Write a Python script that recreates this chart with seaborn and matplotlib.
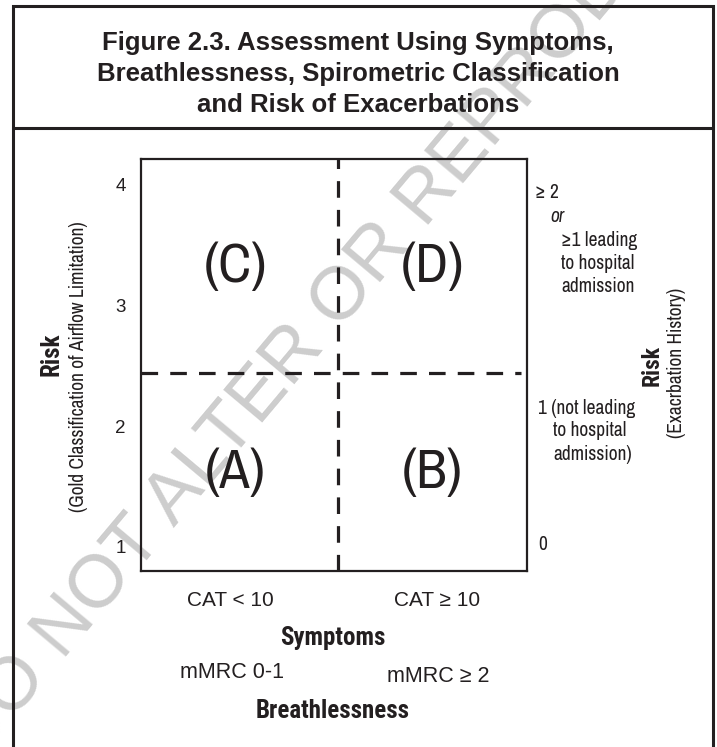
import matplotlib
matplotlib.use("Agg")
import matplotlib.pyplot as plt
from matplotlib.patches import Rectangle
from matplotlib.lines import Line2D
import seaborn as sns
import pandas as pd

# chart content
title_lines = ["Figure 2.3. Assessment Using Symptoms,",
               "Breathlessness, Spirometric Classification",
               "and Risk of Exacerbations"]
gold_ticks = [1, 2, 3, 4]
x_split = 0.51        # CAT 10 / mMRC 2 boundary
y_split = 2.44        # between GOLD 2 and 3
quad_labels = ["(A)", "(B)", "(C)", "(D)"]
quad_x = [0.245, 0.755, 0.245, 0.755]
quad_y = [1.61, 1.61, 3.32, 3.32]
cat_labels = ["CAT < 10", "CAT \u2265 10"]
mmrc_labels = ["mMRC 0-1", "mMRC \u2265 2"]
exac_high = ["\u2265 2", "or", "\u22651 leading", "to hospital", "admission"]
exac_mid = ["1 (not leading", "to hospital", "admission)"]
exac_low = "0"

W, H = 717, 747
INK = "#231f20"
NARROW = ["Archivo Narrow", "Roboto Condensed", "Liberation Sans", "DejaVu Sans"]
NARROW_B = ["Roboto Condensed", "Asap Condensed", "Liberation Sans", "DejaVu Sans"]
REG = ["Liberation Sans", "DejaVu Sans"]


def fx(x):
    return x / W


def fy(y):
    return 1 - y / H


sns.set_theme(style="white")
plt.rcParams["font.family"] = REG

fig = plt.figure(figsize=(W / 100, H / 100), dpi=100)
ax = fig.add_axes([fx(141), fy(571), (527 - 141) / W, (571 - 159) / H])
ax.patch.set_alpha(0)

# quadrant dividers
div = pd.DataFrame({"x": [x_split, x_split], "y": [0.80, 4.215]})
sns.lineplot(data=div, x="x", y="y", ax=ax, color=INK, lw=2.3,
             sort=False, estimator=None)
ax.lines[-1].set_dashes([5.2, 3.8])
ax.axhline(y_split, xmin=0, xmax=0.985, color=INK, lw=2.3, dashes=[5.2, 3.8])

ax.set_xlim(0, 1)
ax.set_ylim(0.80, 4.215)
ax.set_xlabel("")
ax.set_ylabel("")
ax.set_xticks([])
ax.set_yticks(gold_ticks)
ax.set_yticklabels([str(t) for t in gold_ticks], fontsize=13.5, family=REG)
ax.tick_params(axis="y", length=0, pad=11, colors=INK)
for s in ax.spines.values():
    s.set_color(INK)
    s.set_linewidth(1.6)

for lab, qx, qy in zip(quad_labels, quad_x, quad_y):
    ax.text(qx, qy, lab, ha="center", va="center", fontsize=40,
            family=NARROW, color=INK)

# watermark
fig.text(fx(340), fy(300), "DO NOT ALTER OR REPRODUCE", rotation=50,
         ha="center", va="center", fontsize=54, color="#cdcdcd",
         family=REG, zorder=-5)

# outer frame and title box
fig.patches.append(Rectangle((fx(13), fy(760)), (713 - 13) / W, (760 - 6) / H,
                             transform=fig.transFigure, fill=False,
                             ec=INK, lw=2.2))
fig.lines.append(Line2D([fx(13), fx(713)], [fy(128), fy(128)],
                        transform=fig.transFigure, color=INK, lw=2.2))

for line, ty in zip(title_lines, [43, 74, 105]):
    fig.text(fx(358), fy(ty), line, ha="center", va="center", fontsize=18.5,
             fontweight="bold", family=REG, color=INK)

# left axis title
fig.text(fx(52), fy(354), "Risk", rotation=90, ha="center", va="center",
         fontsize=18, fontweight="bold", family=NARROW_B, color=INK)
fig.text(fx(79), fy(367), "(Gold Classification of Airflow Limitation)",
         rotation=90, ha="center", va="center", fontsize=14, family=NARROW,
         color=INK)

# right axis (exacerbation history)
for txt, tx, ty in zip(exac_high, [535, 550, 561, 561, 561],
                       [193, 216, 241, 264, 287]):
    fig.text(fx(tx), fy(ty), txt, ha="left", va="center", fontsize=14,
             family=NARROW, color=INK,
             style="italic" if txt == "or" else "normal")
for txt, tx, ty in zip(exac_mid, [538, 553, 553], [408, 431, 455]):
    fig.text(fx(tx), fy(ty), txt, ha="left", va="center", fontsize=14,
             family=NARROW, color=INK)
fig.text(fx(538), fy(545), exac_low, ha="left", va="center", fontsize=14,
         family=NARROW, color=INK)

fig.text(fx(652), fy(365), "Risk", rotation=90, ha="center", va="center",
         fontsize=17, fontweight="bold", family=NARROW_B, color=INK)
fig.text(fx(677), fy(363), "(Exacrbation History)", rotation=90,
         ha="center", va="center", fontsize=14, family=NARROW, color=INK)

# bottom labels
for txt, tx in zip(cat_labels, [230, 437]):
    fig.text(fx(tx), fy(600), txt, ha="center", va="center", fontsize=15,
             family=REG, color=INK)
fig.text(fx(333), fy(638), "Symptoms", ha="center", va="center", fontsize=18,
         fontweight="bold", family=NARROW_B, color=INK)
for txt, tx, ty in zip(mmrc_labels, [232, 438], [673, 676]):
    fig.text(fx(tx), fy(ty), txt, ha="center", va="center", fontsize=15.5,
             family=REG, color=INK)
fig.text(fx(333), fy(711), "Breathlessness", ha="center", va="center",
         fontsize=18, fontweight="bold", family=NARROW_B, color=INK)

fig.savefig("out.png", dpi=100)
